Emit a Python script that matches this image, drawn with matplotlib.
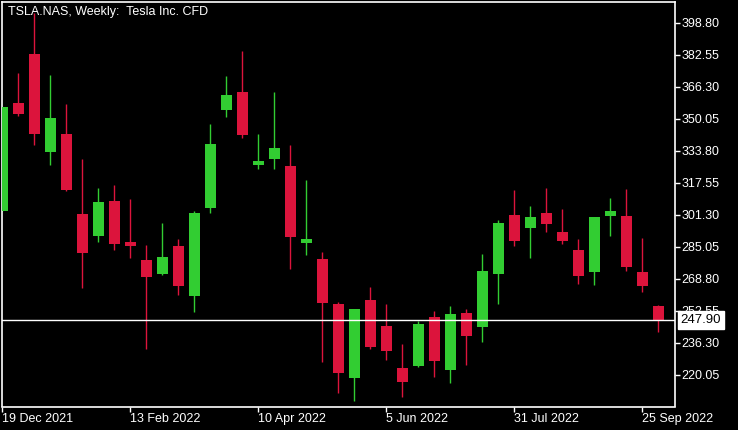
import matplotlib
matplotlib.use('Agg')
import matplotlib.pyplot as plt
import matplotlib.transforms as mtransforms
import pandas as pd

# weekly candles, TSLA.NAS
weeks = pd.date_range('2021-12-19', periods=42, freq='7D')
opens = [303.2, 358.0, 383.1, 333.3, 342.4, 301.6, 290.6, 308.2, 287.4, 278.3,
         271.2, 285.4, 260.1, 304.8, 354.6, 363.6, 326.7, 329.7, 326.0, 287.1,
         278.8, 255.9, 218.5, 258.0, 244.8, 223.4, 224.6, 249.3, 222.6, 251.4,
         244.4, 271.3, 301.1, 294.7, 302.2, 292.5, 283.5, 272.3, 300.8, 300.6,
         272.2, 254.9]
highs = [356.0, 373.3, 403.7, 372.2, 357.5, 329.6, 314.9, 316.4, 309.3, 285.9,
         297.1, 288.9, 303.2, 347.4, 371.7, 384.4, 342.3, 363.6, 336.7, 318.9,
         282.3, 256.8, 253.6, 264.6, 255.9, 235.6, 247.3, 252.4, 254.9, 253.4,
         281.3, 298.6, 313.8, 305.7, 314.9, 304.2, 288.9, 300.1, 309.8, 314.4,
         289.4, 255.4]
lows = [303.2, 351.6, 336.8, 326.7, 313.3, 264.2, 287.6, 283.5, 279.5, 233.2,
        270.7, 260.7, 252.0, 302.3, 350.9, 340.4, 324.6, 324.6, 273.9, 281.0,
        226.6, 210.9, 206.8, 233.2, 227.7, 208.9, 224.1, 219.0, 215.9, 225.1,
        236.8, 255.9, 285.5, 279.5, 292.7, 286.6, 266.1, 265.7, 290.6, 272.8,
        262.2, 241.9]
closes = [356.0, 352.6, 342.4, 350.4, 314.0, 282.0, 307.7, 286.4, 285.5, 269.8,
          279.8, 265.2, 302.2, 337.2, 362.1, 341.9, 328.6, 335.2, 290.1, 289.0,
          256.6, 221.0, 253.4, 234.2, 232.2, 216.5, 245.8, 227.1, 250.9, 239.8,
          272.7, 297.1, 288.1, 300.1, 296.6, 288.1, 270.2, 300.1, 303.2, 274.9,
          265.2, 247.9]
last_price = 247.90
price_ticks = [220.05, 236.30, 252.55, 268.80, 285.05, 301.30, 317.55,
               333.80, 350.05, 366.30, 382.55, 398.80]

up_color = '#32CD32'
down_color = '#DC143C'

plt.rcParams['font.family'] = ['Liberation Sans', 'DejaVu Sans']

fig = plt.figure(figsize=(7.38, 4.30), dpi=100, facecolor='black')
W, H = 738.0, 430.0
ax = fig.add_axes([2.3 / W, (H - 406.5) / H, (675.3 - 2.3) / W, (406.5 - 2.3) / H])
ax.set_facecolor('black')

px = 1.0 / 16.0  # one pixel in x data units
for i in range(len(opens)):
    o, h, l, c = opens[i], highs[i], lows[i], closes[i]
    col = up_color if c >= o else down_color
    ax.vlines(i, l, h, color=col, linewidth=1.0, zorder=2)
    bot = min(o, c)
    ht = max(abs(c - o), 0.6)
    ax.bar(i, ht, bottom=bot, width=11 * px, color=col, linewidth=0, zorder=3)

ax.axhline(last_price, color='white', linewidth=1.0, zorder=4)

ax.set_xlim(0, (675.3 - 2.3) / 16.0)
ax.set_ylim(203.9, 409.2)

# axes styling
for s in ax.spines.values():
    s.set_color('white')
    s.set_linewidth(1.2)
ax.yaxis.tick_right()
ax.set_yticks(price_ticks)
ax.set_yticklabels(['%.2f' % p for p in price_ticks])
tick_idx = [0, 8, 16, 24, 32, 40]
ax.set_xticks(tick_idx)
ax.set_xticklabels([weeks[k].strftime('%-d %b %Y') for k in tick_idx], ha='left')
ax.tick_params(axis='both', colors='white', labelcolor='white', labelsize=9,
               length=3.5, width=1.0, direction='out')
ax.tick_params(axis='y', pad=1)
ax.tick_params(axis='x', pad=1.5)

# last price label box
trans = mtransforms.blended_transform_factory(ax.transAxes, ax.transData)
ax.text(1.008, last_price, '%.2f' % last_price, transform=trans, ha='left', va='center',
        fontsize=9.5, color='black', zorder=10, clip_on=False,
        bbox=dict(boxstyle='square,pad=0.2', facecolor='white', edgecolor='white'))

fig.text(8 / W, 1 - 11.5 / H, 'TSLA.NAS, Weekly:  Tesla Inc. CFD', color='white',
         fontsize=9, ha='left', va='center')

fig.savefig('out.png', dpi=100, facecolor='black')
